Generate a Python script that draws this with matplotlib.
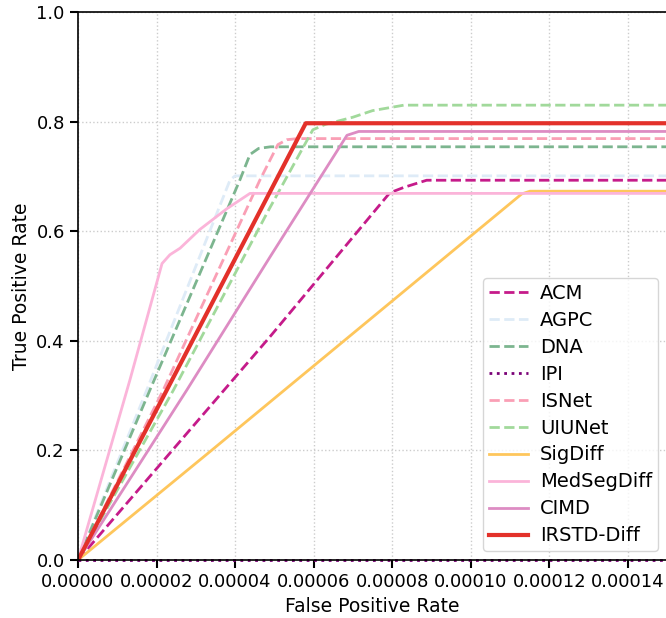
import matplotlib
matplotlib.use("Agg")
import matplotlib.pyplot as plt

# ---- data ----
acm_fpr = [0, 4.89e-5, 7.94e-5, 8.3e-5, 8.88e-5, 1.5e-4]
acm_tpr = [0, 0.4075, 0.670, 0.680, 0.693, 0.693]

agpc_fpr = [0, 1.75e-5, 3.87e-5, 4.0e-5, 1.5e-4]
agpc_tpr = [0, 0.31, 0.693, 0.701, 0.701]

dna_fpr = [0, 1.83e-5, 4.12e-5, 4.38e-5, 4.6e-5, 4.9e-5, 1.5e-4]
dna_tpr = [0, 0.31, 0.693, 0.740, 0.751, 0.754, 0.754]

ipi_fpr = [0, 1.5e-4]
ipi_tpr = [0, 0]

isnet_fpr = [0, 2.17e-5, 4.63e-5, 5.09e-5, 5.32e-5, 5.6e-5, 1.5e-4]
isnet_tpr = [0, 0.31, 0.693, 0.758, 0.767, 0.769, 0.769]

uiunet_fpr = [0, 2.43e-5, 4.85e-5, 5.98e-5, 6.3e-5, 7.0e-5, 7.5e-5, 8.3e-5, 1.5e-4]
uiunet_tpr = [0, 0.31, 0.638, 0.785, 0.795, 0.808, 0.820, 0.830, 0.830]

sigdiff_fpr = [0, 3.36e-5, 1.13e-4, 1.151e-4, 1.5e-4]
sigdiff_tpr = [0, 0.1977, 0.668, 0.673, 0.673]

medseg_fpr = [0, 1.32e-5, 2.14e-5, 2.34e-5, 2.6e-5, 3.1e-5, 3.79e-5, 4.38e-5, 1.5e-4]
medseg_tpr = [0, 0.328, 0.541, 0.557, 0.569, 0.603, 0.641, 0.669, 0.669]

cimd_fpr = [0, 2.77e-5, 4.89e-5, 6.85e-5, 7.15e-5, 1.5e-4]
cimd_tpr = [0, 0.31, 0.553, 0.775, 0.782, 0.782]

irstd_fpr = [0, 2.26e-5, 5.8e-5, 1.5e-4]
irstd_tpr = [0, 0.31, 0.797, 0.797]

labels = ["ACM", "AGPC", "DNA", "IPI", "ISNet", "UIUNet",
          "SigDiff", "MedSegDiff", "CIMD", "IRSTD-Diff"]
xticks = [0, 2e-5, 4e-5, 6e-5, 8e-5, 1e-4, 1.2e-4, 1.4e-4]
yticks = [0.0, 0.2, 0.4, 0.6, 0.8, 1.0]

series = [
    (acm_fpr, acm_tpr, dict(color="#c51b8a", ls=(0, (3.7, 1.6)), lw=2)),
    (agpc_fpr, agpc_tpr, dict(color="#deebf7", ls=(0, (3.7, 1.6)), lw=2)),
    (dna_fpr, dna_tpr, dict(color="#7cb58f", ls=(0, (3.7, 1.6)), lw=2)),
    (ipi_fpr, ipi_tpr, dict(color="#7a0177", ls=(0, (1, 1.65)), lw=2)),
    (isnet_fpr, isnet_tpr, dict(color="#fa9fb5", ls=(0, (3.7, 1.6)), lw=2)),
    (uiunet_fpr, uiunet_tpr, dict(color="#a1d99b", ls=(0, (3.7, 1.6)), lw=2)),
    (sigdiff_fpr, sigdiff_tpr, dict(color="#fec65c", ls="-", lw=2)),
    (medseg_fpr, medseg_tpr, dict(color="#fbb4d9", ls="-", lw=2)),
    (cimd_fpr, cimd_tpr, dict(color="#dd8cc3", ls="-", lw=2)),
    (irstd_fpr, irstd_tpr, dict(color="#e3312a", ls="-", lw=3)),
]

fig = plt.figure(figsize=(6.66, 6.18), dpi=100)
ax = fig.add_axes([78/666, 1 - 560/618, 589/666, 548/618])

for (x, y, st), lab in zip(series, labels):
    ax.plot(x, y, label=lab, clip_on=False if lab == "IPI" else True, **st)

ax.set_xlim(0, 1.5e-4)
ax.set_ylim(0, 1.0)
ax.set_xticks(xticks)
ax.set_xticklabels([f"{v:.5f}" for v in xticks])
ax.set_yticks(yticks)
ax.set_yticklabels([f"{v:.1f}" for v in yticks])
ax.tick_params(labelsize=13, width=1.5, length=6)
ax.grid(True, ls=":", color="#cccccc", lw=1)
ax.set_xlabel("False Positive Rate", fontsize=13.5, labelpad=4)
ax.set_ylabel("True Positive Rate", fontsize=13.5)
for s in ax.spines.values():
    s.set_linewidth(1.2)

leg = ax.legend(loc="lower right", fontsize=14, frameon=True,
                handlelength=2.0, labelspacing=0.41, borderpad=0.3,
                handletextpad=0.65, borderaxespad=0.45)
leg.get_frame().set_edgecolor("#cccccc")

fig.savefig("out.png", dpi=100)
